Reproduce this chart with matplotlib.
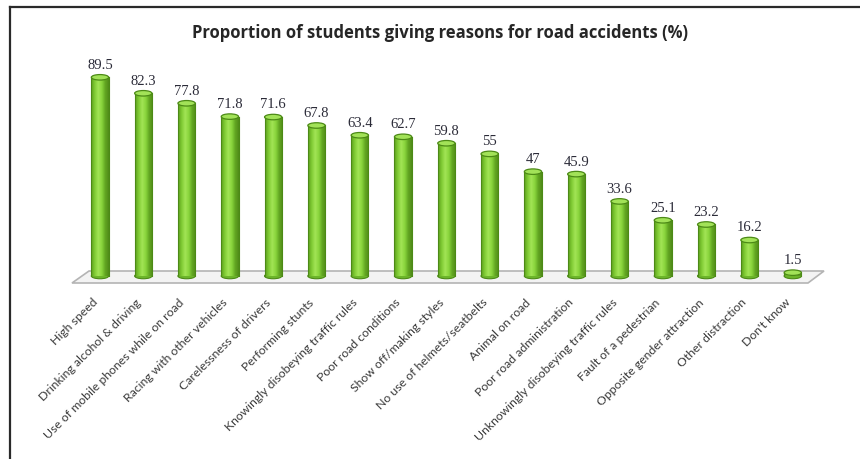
import numpy as np
import matplotlib
matplotlib.use("Agg")
import matplotlib.pyplot as plt
from matplotlib.patches import Ellipse, Polygon
from matplotlib.colors import LinearSegmentedColormap
from matplotlib.lines import Line2D

reasons = [
    "High speed",
    "Drinking alcohol & driving",
    "Use of mobile phones while on road",
    "Racing with other vehicles",
    "Carelessness of drivers",
    "Performing stunts",
    "Knowingly disobeying traffic rules",
    "Poor road conditions",
    "Show off/making styles",
    "No use of helmets/seatbelts",
    "Animal on road",
    "Poor road administration",
    "Unknowingly disobeying traffic rules",
    "Fault of a pedestrian",
    "Opposite gender attraction",
    "Other distraction",
    "Don't know",
]
percent = [89.5, 82.3, 77.8, 71.8, 71.6, 67.8, 63.4, 62.7, 59.8, 55,
           47, 45.9, 33.6, 25.1, 23.2, 16.2, 1.5]
value_labels = ["89.5", "82.3", "77.8", "71.8", "71.6", "67.8", "63.4", "62.7",
                "59.8", "55", "47", "45.9", "33.6", "25.1", "23.2", "16.2", "1.5"]
title = "Proportion of students giving reasons for road accidents (%)"

W, H = 860, 459
fig = plt.figure(figsize=(W / 100, H / 100), dpi=100)
fig.patch.set_facecolor("white")

# axes placed in pixel terms
px_left, px_right, px_top, px_bottom = 60, 840, 45, 290
ax = fig.add_axes([px_left / W, 1 - px_bottom / H,
                   (px_right - px_left) / W, (px_bottom - px_top) / H])

x = np.arange(len(percent))
xpx = 43.3              # pixels per category
ypx = 2.22              # pixels per percentage point
x0_px, y0_px = 100, 276  # pixel position of first category at value 0
xlim = ((px_left - x0_px) / xpx, (px_right - x0_px) / xpx)
ylim = ((y0_px - px_bottom) / ypx, (y0_px - px_top) / ypx)

# floor of the 3-D style plot area
def to_data(px, py):
    return ((px - x0_px) / xpx, (y0_px - py) / ypx)

floor = [to_data(72, 283), to_data(89, 271), to_data(824, 271), to_data(808, 283)]
ax.add_patch(Polygon(floor, closed=True, facecolor="#f3f3f3",
                     edgecolor="#b4b4b4", linewidth=1.2, zorder=1))

# cylinder shading
cmap = LinearSegmentedColormap.from_list(
    "cyl", ["#5c9f1c", "#80cb34", "#a2e455", "#8ad53d", "#62a622", "#518c19"])
grad = np.linspace(0, 1, 64).reshape(1, -1)

bw = 0.40
cap_h = 5.5 / ypx
for xi, v in zip(x, percent):
    ax.imshow(grad, extent=[xi - bw / 2, xi + bw / 2, 0, v], aspect="auto",
              cmap=cmap, origin="lower", zorder=3, interpolation="bilinear")
    ax.add_line(Line2D([xi - bw / 2, xi - bw / 2], [0, v], color="#4c8a16",
                       lw=0.8, zorder=4))
    ax.add_line(Line2D([xi + bw / 2, xi + bw / 2], [0, v], color="#4c8a16",
                       lw=0.8, zorder=4))
    # rounded bottom
    ax.add_patch(Ellipse((xi, 0), bw, cap_h, facecolor="#6cb52a",
                         edgecolor="#4c8a16", lw=0.8, zorder=2.9))
    # top cap
    ax.add_patch(Ellipse((xi, v), bw, cap_h, facecolor="#a2e258",
                         edgecolor="#4c8a16", lw=0.9, zorder=5))

for xi, v, lab in zip(x, percent, value_labels):
    ax.annotate(lab, (xi, v), xytext=(0, 4), textcoords="offset points",
                ha="center", va="bottom", fontsize=10.5,
                family="Liberation Serif", color="#2b2b38", zorder=6)

# rotated category labels, anchored just below the floor
for xi, lab in zip(x, reasons):
    ax.annotate(lab, (xi, 0), xytext=(-6, -15), textcoords="offset points",
                rotation=45, ha="right", va="top", rotation_mode="anchor",
                fontsize=8.8, family="Lato", color="#3a3a3a",
                annotation_clip=False)

ax.set_xlim(*xlim)
ax.set_ylim(*ylim)
ax.set_xticks([])
ax.set_yticks([])
for s in ax.spines.values():
    s.set_visible(False)
ax.set_facecolor("none")

fig.text(440 / W, 1 - 33 / H, title, ha="center", va="center",
         fontsize=12, fontweight="bold", family="Open Sans", color="#262626")

# outer frame (left and top edges)
fig.add_artist(Line2D([10 / W, 10 / W], [0, 1 - 7 / H], color="#2a2a2a",
                      lw=1.6, transform=fig.transFigure))
fig.add_artist(Line2D([10 / W, 1], [1 - 7 / H, 1 - 7 / H], color="#2a2a2a",
                      lw=1.6, transform=fig.transFigure))

fig.savefig("out.png", dpi=100, facecolor="white")
